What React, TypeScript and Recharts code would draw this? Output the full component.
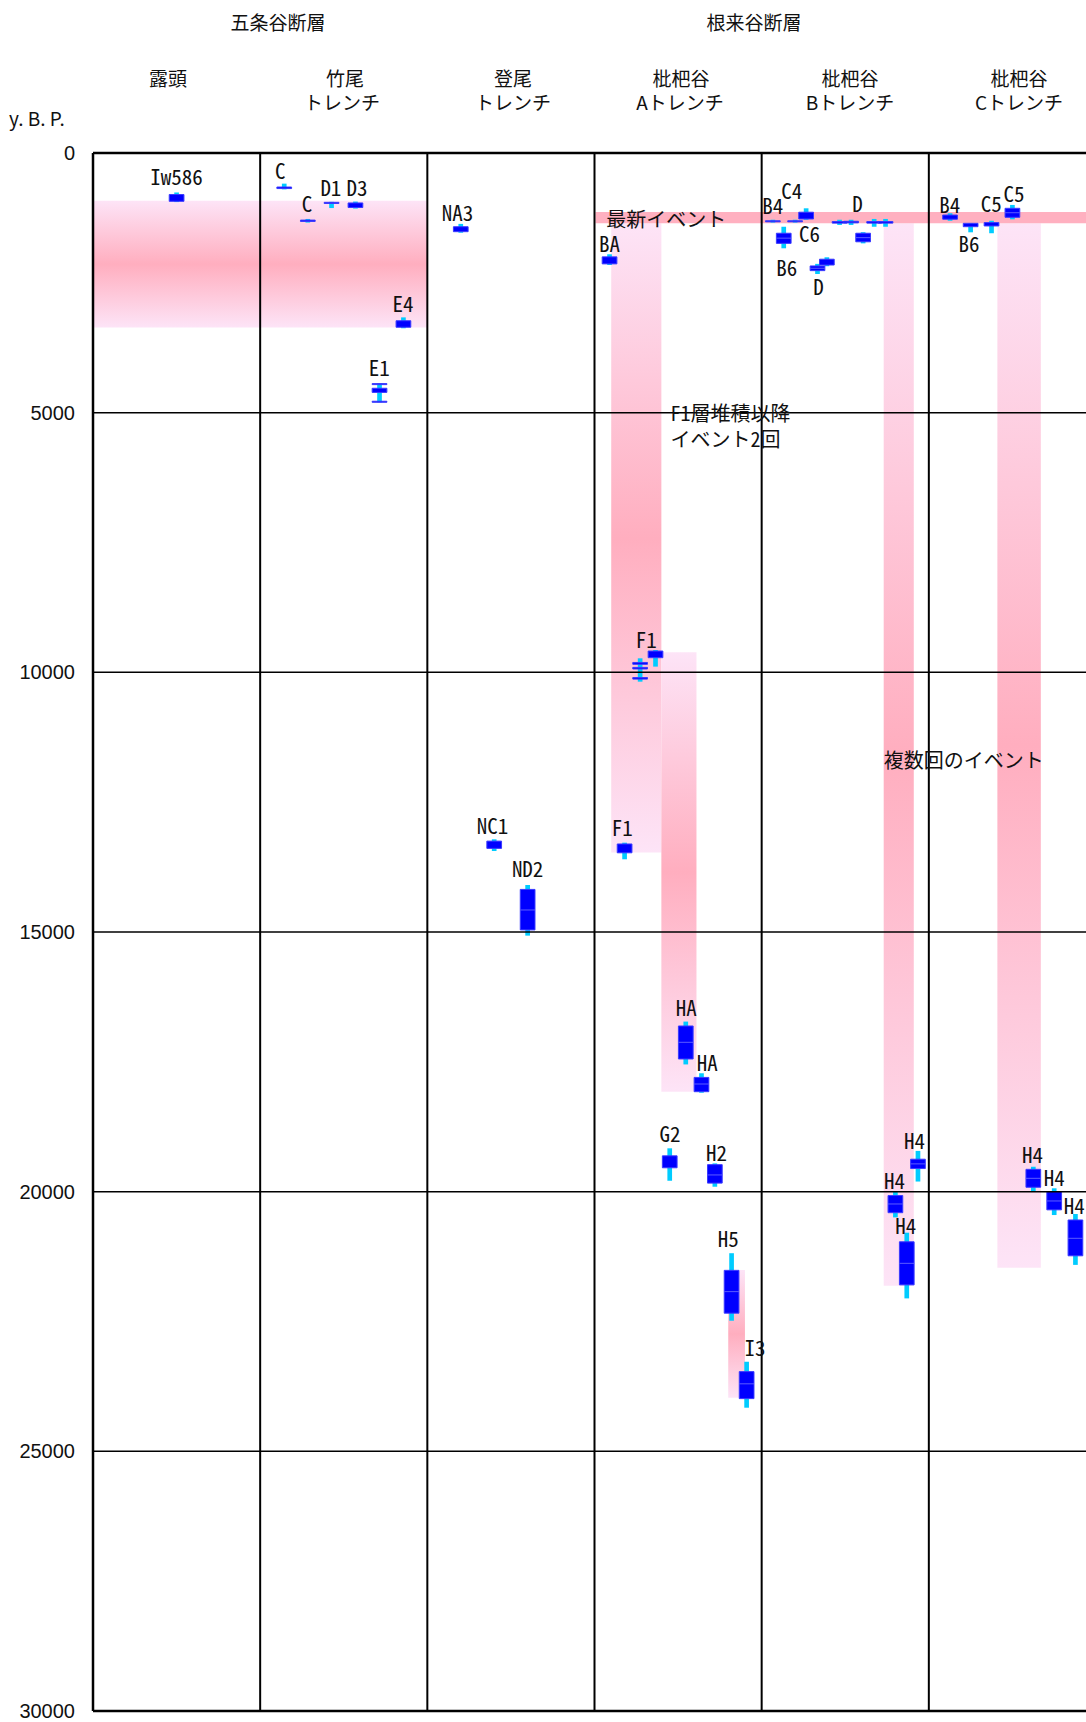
import React from 'react';
import { ComposedChart, XAxis, YAxis, Scatter, ReferenceArea, ReferenceLine } from 'recharts';

// x is measured in trench columns (0..6), y in years BP
const columnLines = [0, 1, 2, 3, 4, 5, 6];
const yTicks = [0, 5000, 10000, 15000, 20000, 25000, 30000];

// [x, whiskerLow, boxLow, boxHigh, whiskerHigh, median?]
type Ev = [number, number, number, number, number, number?];

const rotou: Ev[] = [[0.5, 760, 800, 930, 945]];

const takeo: Ev[] = [
  [1.144, 590, 655, 685, 700],
  [1.285, 1270, 1292, 1318, 1340],
  [1.427, 940, 950, 972, 1060],
  [1.57, 935, 962, 1050, 1070],
  [1.857, 3165, 3230, 3355, 3375],
  [1.714, 4440, 4530, 4610, 4790],
  [1.714, 4780, 4780, 4800, 4800],
  [1.714, 4440, 4440, 4460, 4460],
];

const noboo: Ev[] = [
  [2.2, 1365, 1420, 1515, 1535],
  [2.4, 13215, 13250, 13390, 13440],
  [2.6, 14095, 14180, 14960, 15070, 14576],
];

const biwaA: Ev[] = [
  [3.09, 1950, 2000, 2135, 2157],
  [3.273, 9730, 9810, 9845, 10180],
  [3.273, 9905, 9905, 9935, 9935],
  [3.273, 10100, 10100, 10130, 10130],
  [3.365, 9570, 9590, 9718, 9890],
  [3.18, 13280, 13305, 13475, 13600],
  [3.546, 16725, 16810, 17445, 17550, 17124],
  [3.64, 17720, 17800, 18075, 18095, 17927],
  [3.45, 19165, 19310, 19540, 19790],
  [3.72, 19455, 19480, 19835, 19905, 19678],
  [3.82, 21185, 21515, 22340, 22485, 21925],
  [3.91, 23275, 23465, 23985, 24160, 23700],
];

const biwaB: Ev[] = [
  [4.067, 1285, 1305, 1325, 1340],
  [4.2, 1285, 1305, 1325, 1340],
  [4.266, 1065, 1140, 1270, 1285],
  [4.132, 1420, 1545, 1740, 1835, 1640],
  [4.334, 2135, 2175, 2265, 2330, 2220],
  [4.39, 2008, 2045, 2157, 2180],
  [4.466, 1285, 1320, 1350, 1385],
  [4.535, 1285, 1315, 1345, 1385],
  [4.607, 1525, 1545, 1710, 1740, 1630],
  [4.673, 1270, 1320, 1350, 1420],
  [4.741, 1270, 1320, 1350, 1420],
  [4.935, 19215, 19375, 19555, 19805, 19465],
  [4.8, 20000, 20075, 20405, 20495, 20237],
  [4.868, 20790, 20965, 21795, 22055, 21380],
];

const biwaC: Ev[] = [
  [5.127, 1160, 1195, 1275, 1305],
  [5.25, 1354, 1354, 1419, 1527],
  [5.375, 1305, 1340, 1405, 1545],
  [5.5, 1000, 1065, 1238, 1277, 1150],
  [5.625, 19520, 19570, 19915, 20000, 19743],
  [5.75, 19935, 20000, 20350, 20450, 20179],
  [5.877, 20430, 20545, 21235, 21410, 20898],
];

// [text, x, y]
const eventLabels: [string, number, number][] = [
  ['Iw586', 0.5, 443],
  ['C', 1.12, 327],
  ['C', 1.28, 963],
  ['D1', 1.423, 655],
  ['D3', 1.58, 655],
  ['E4', 1.854, 2888],
  ['E1', 1.713, 4115],
  ['NA3', 2.18, 1130],
  ['NC1', 2.39, 12939],
  ['ND2', 2.6, 13773],
  ['BA', 3.09, 1739],
  ['F1', 3.31, 9364],
  ['F1', 3.166, 12972],
  ['HA', 3.549, 16438],
  ['HA', 3.674, 17509],
  ['G2', 3.451, 18864],
  ['H2', 3.73, 19230],
  ['H5', 3.8, 20898],
  ['I3', 3.96, 22985],
  ['B4', 4.067, 1001],
  ['C4', 4.18, 712],
  ['C6', 4.286, 1546],
  ['B6', 4.15, 2200],
  ['D', 4.34, 2561],
  ['D', 4.574, 956],
  ['H4', 4.914, 19004],
  ['H4', 4.795, 19775],
  ['H4', 4.862, 20641],
  ['B4', 5.125, 982],
  ['B6', 5.24, 1739],
  ['C5', 5.373, 956],
  ['C5', 5.51, 776],
  ['H4', 5.62, 19269],
  ['H4', 5.75, 19712],
  ['H4', 5.87, 20256],
];

const notes: [string, number, number][] = [
  ['最新イベント', 3.07, 1257],
  ['F1層堆積以降', 3.455, 5006],
  ['イベント2回', 3.455, 5488],
  ['複数回のイベント', 4.73, 11688],
];

// [x1, x2, y1, y2]
const gradientBands: [number, number, number, number][] = [
  [0, 2, 920, 3360],
  [3.1, 3.4, 1354, 13470],
  [3.4, 3.61, 9615, 18075],
  [3.8, 3.9, 21508, 23970],
  [4.73, 4.91, 1354, 21810],
  [5.41, 5.67, 1354, 21465],
];
const latestBand: [number, number, number, number] = [3.006, 6, 1136, 1354];

const headers: [string, number, number][] = [
  ['五条谷断層', 278, 22],
  ['根来谷断層', 754, 22],
  ['露頭', 168, 78],
  ['竹尾', 345, 78],
  ['トレンチ', 342, 102],
  ['登尾', 513, 78],
  ['トレンチ', 513, 102],
  ['枇杷谷', 681, 78],
  ['Aトレンチ', 680, 102],
  ['枇杷谷', 850, 78],
  ['Bトレンチ', 850, 102],
  ['枇杷谷', 1019, 78],
  ['Cトレンチ', 1019, 102],
];

const BLUE = '#0000ff';
const CYAN = '#00ccff';
const BOX_HALF = 0.044;
const WHISKER_HALF = 0.014;
const JP = '"Noto Sans CJK JP", "Noto Sans", sans-serif';

const allEvents = [...rotou, ...takeo, ...noboo, ...biwaA, ...biwaB, ...biwaC];

const labelPoints = eventLabels.map(([text, x, y]) => ({ text, x, y }));
const notePoints = notes.map(([text, x, y]) => ({ text, x, y }));

const LabelText = (props: any) => {
  const { cx, cy, payload } = props;
  return (
    <text
      x={cx}
      y={cy}
      textAnchor="middle"
      dominantBaseline="central"
      fontFamily={JP}
      fontSize={21}
      fill="#111"
      style={{ fontFeatureSettings: '"hwid"' }}
    >
      {payload.text}
    </text>
  );
};

const NoteText = (props: any) => {
  const { cx, cy, payload } = props;
  return (
    <text
      x={cx}
      y={cy}
      textAnchor="start"
      dominantBaseline="central"
      fontFamily={JP}
      fontSize={20}
      fill="#111"
      style={{ fontFeatureSettings: '"hwid"' }}
    >
      {payload.text}
    </text>
  );
};

export default function App() {
  return (
    <div style={{ position: 'absolute', left: 0, top: 0, width: 1086, height: 1722, overflow: 'hidden', background: '#fff' }}>
      {headers.map(([text, x, y], i) => (
        <div
          key={i}
          style={{
            position: 'absolute',
            left: x,
            top: y - 10,
            transform: 'translateX(-50%)',
            whiteSpace: 'nowrap',
            fontFamily: JP,
            fontSize: 19,
            lineHeight: '20px',
            color: '#111',
          }}
        >
          {text}
        </div>
      ))}
      <div
        style={{
          position: 'absolute',
          left: 9,
          top: 108,
          fontFamily: JP,
          fontSize: 19,
          lineHeight: '20px',
          color: '#111',
        }}
      >
        y. B. P.
      </div>
      <ComposedChart
        width={1110}
        height={1722}
        margin={{ top: 153, right: 14, bottom: 11, left: 13 }}
        data={[]}
      >
        <defs>
          <linearGradient id="pinkBand" x1="0" y1="0" x2="0" y2="1">
            <stop offset="0%" stopColor="#fde4f7" />
            <stop offset="50%" stopColor="#ffaebf" />
            <stop offset="100%" stopColor="#fde4f7" />
          </linearGradient>
        </defs>
        <XAxis type="number" dataKey="x" domain={[0, 6]} hide allowDataOverflow />
        <YAxis
          type="number"
          dataKey="y"
          domain={[0, 30000]}
          reversed
          ticks={yTicks}
          interval={0}
          width={80}
          axisLine={false}
          tickLine={false}
          tickMargin={12}
          allowDataOverflow
          tick={{ fill: '#111', fontSize: 20, fontFamily: '"Liberation Sans", Arial, sans-serif' }}
        />
        {gradientBands.map(([x1, x2, y1, y2], i) => (
          <ReferenceArea
            key={`band${i}`}
            x1={x1}
            x2={x2}
            y1={y1}
            y2={y2}
            fill="url(#pinkBand)"
            fillOpacity={1}
            stroke="none"
            ifOverflow="visible"
          />
        ))}
        <ReferenceArea
          x1={latestBand[0]}
          x2={latestBand[1]}
          y1={latestBand[2]}
          y2={latestBand[3]}
          fill="#ffb0c0"
          fillOpacity={1}
          stroke="none"
          ifOverflow="visible"
        />
        {yTicks.map((t) => (
          <ReferenceLine
            key={`h${t}`}
            y={t}
            stroke="#000"
            strokeWidth={t === 0 || t === 30000 ? 2.5 : 1.5}
            ifOverflow="visible"
          />
        ))}
        {columnLines.map((c) => (
          <ReferenceLine
            key={`v${c}`}
            x={c}
            stroke="#000"
            strokeWidth={c === 0 ? 2.5 : 2}
            ifOverflow="visible"
          />
        ))}
        {allEvents.map(([x, wl, , , wh], i) => (
          <ReferenceArea
            key={`w${i}`}
            x1={x - WHISKER_HALF}
            x2={x + WHISKER_HALF}
            y1={wl}
            y2={wh}
            fill={CYAN}
            fillOpacity={1}
            stroke="none"
            ifOverflow="visible"
          />
        ))}
        {allEvents.map(([x, , bl, bh], i) => (
          <ReferenceArea
            key={`b${i}`}
            x1={x - BOX_HALF}
            x2={x + BOX_HALF}
            y1={bl}
            y2={bh}
            fill={BLUE}
            fillOpacity={1}
            stroke="#3a3aff"
            strokeWidth={1}
            ifOverflow="visible"
          />
        ))}
        {allEvents
          .filter((e) => e[5] !== undefined)
          .map(([x, , , , , med], i) => (
            <ReferenceLine
              key={`m${i}`}
              segment={[
                { x: x - BOX_HALF, y: med as number },
                { x: x + BOX_HALF, y: med as number },
              ]}
              stroke="#5c5cff"
              strokeWidth={1}
              ifOverflow="visible"
            />
          ))}
        <Scatter data={labelPoints} shape={LabelText} isAnimationActive={false} />
        <Scatter data={notePoints} shape={NoteText} isAnimationActive={false} />
      </ComposedChart>
    </div>
  );
}
